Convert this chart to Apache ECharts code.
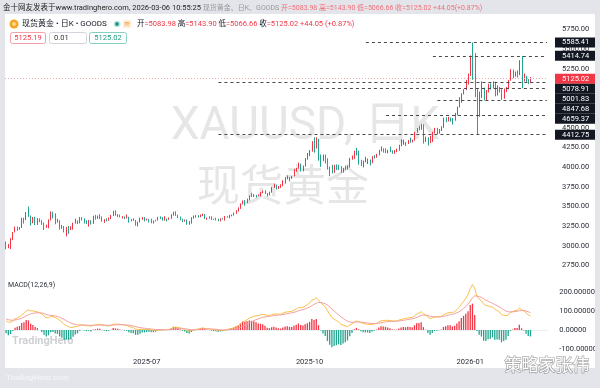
<!DOCTYPE html>
<html>
<head>
<meta charset="utf-8">
<script src="https://cdn.jsdelivr.net/npm/echarts@6/dist/echarts.min.js"></script>
<style>
  html, body { margin: 0; padding: 0; background: #e3e5ea; }
  #chart { width: 600px; height: 388px; }
</style>
</head>
<body>
<div id="chart"></div>
<script>
// daily bars [open, close, low, high]
const apr2025 = [
  [3037,2982,2956,3055],[2982,2988,2970,3023],[2988,3083,2958,3099],[3083,3175,3073,3177],
  [3175,3237,3171,3245],[3237,3210,3193,3245],[3210,3230,3205,3238],[3230,3343,3227,3357],
  [3343,3327,3283,3357],[3327,3424,3327,3430],[3424,3381,3367,3500],[3381,3288,3260,3386],
  [3288,3349,3287,3367],[3349,3319,3264,3370],[3319,3344,3267,3352],[3344,3316,3300,3348],
  [3316,3288,3268,3328]
];
const may2025 = [
  [3288,3239,3202,3297],[3239,3241,3229,3269],[3241,3334,3223,3336],[3334,3431,3323,3437],
  [3431,3364,3348,3434],[3364,3306,3274,3414],[3306,3324,3296,3342],[3324,3236,3207,3325],
  [3236,3249,3217,3265],[3249,3178,3171,3252],[3178,3240,3121,3241],[3240,3203,3154,3252],
  [3203,3230,3200,3250],[3230,3289,3205,3295],[3289,3314,3283,3345],[3314,3294,3278,3325],
  [3294,3357,3286,3366],[3357,3341,3322,3365],[3341,3300,3285,3350],[3300,3288,3276,3325],
  [3288,3317,3245,3330],[3317,3289,3271,3325]
];
const jun2025 = [
  [3289,3380,3280,3383],[3380,3352,3333,3392],[3352,3373,3343,3385],[3373,3352,3339,3403],
  [3352,3310,3306,3375],[3310,3325,3292,3340],[3325,3321,3312,3349],[3321,3353,3318,3360],
  [3353,3385,3341,3393],[3385,3433,3378,3446],[3433,3385,3383,3452],[3385,3388,3367,3404],
  [3388,3369,3362,3398],[3369,3371,3347,3378],[3371,3368,3340,3374],[3368,3369,3347,3398],
  [3369,3323,3295,3370],[3323,3333,3312,3341],[3333,3328,3317,3350],[3328,3274,3255,3329],
  [3274,3303,3247,3307]
];
const jul2025 = [
  [3303,3338,3298,3358],[3338,3357,3330,3365],[3357,3326,3311,3365],[3326,3337,3322,3345],
  [3337,3335,3296,3342],[3335,3301,3287,3345],[3301,3313,3283,3322],[3313,3325,3310,3330],
  [3325,3355,3322,3369],[3355,3343,3340,3375],[3343,3324,3320,3366],[3324,3347,3320,3377],
  [3347,3339,3310,3349],[3339,3350,3331,3361],[3350,3397,3345,3402],[3397,3431,3385,3434],
  [3431,3387,3381,3439],[3387,3368,3351,3396],[3368,3337,3325,3373],[3337,3314,3302,3345],
  [3314,3326,3308,3334],[3326,3274,3268,3334],[3274,3289,3268,3315]
];
const aug2025 = [
  [3289,3362,3282,3364],[3362,3373,3346,3385],[3373,3381,3360,3390],[3381,3368,3359,3390],
  [3368,3396,3364,3398],[3396,3398,3378,3409],[3398,3342,3341,3405],[3342,3348,3331,3358],
  [3348,3356,3345,3375],[3356,3336,3330,3375],[3336,3335,3331,3346],[3335,3332,3323,3358],
  [3332,3315,3312,3345],[3315,3347,3311,3351],[3347,3339,3334,3351],[3339,3371,3321,3379],
  [3371,3365,3358,3377],[3365,3393,3351,3394],[3393,3397,3375,3398],[3397,3416,3386,3423],
  [3416,3448,3407,3453]
];
const sep2025 = [
  [3448,3476,3436,3489],[3476,3533,3470,3540],[3533,3578,3527,3578],[3578,3545,3511,3582],
  [3545,3586,3543,3600],[3586,3636,3577,3640],[3636,3626,3620,3674],[3626,3641,3620,3658],
  [3641,3634,3614,3647],[3634,3643,3630,3654],[3643,3679,3628,3685],[3679,3690,3670,3703],
  [3690,3659,3658,3707],[3659,3644,3627,3671],[3644,3685,3640,3688],[3685,3746,3676,3750],
  [3746,3763,3737,3791],[3763,3736,3717,3778],[3736,3749,3722,3761],[3749,3760,3737,3782],
  [3760,3833,3758,3835],[3833,3858,3792,3872]
];
const oct2025 = [
  [3858,3866,3845,3895],[3866,3857,3820,3875],[3857,3886,3851,3889],[3886,3960,3884,3977],
  [3960,3985,3940,3990],[3985,4040,3980,4059],[4040,3975,3945,4045],[3975,4017,3946,4022],
  [4017,4110,4007,4116],[4110,4143,4095,4179],[4143,4208,4140,4218],[4208,4326,4196,4330],
  [4326,4250,4185,4380],[4250,4356,4236,4381],[4356,4125,4082,4360],[4125,4094,4004,4161],
  [4094,4126,4077,4161],[4126,4111,4046,4161],[4111,3982,3970,4113],[3982,3951,3886,4007],
  [3951,3930,3920,4030],[3930,4025,3928,4030],[4025,4002,3964,4035]
];
const nov2025 = [
  [4002,4000,3962,4030],[4000,3932,3928,4013],[3932,3980,3931,3992],[3980,3977,3962,4020],
  [3977,4001,3970,4020],[4001,4115,3995,4118],[4115,4128,4095,4148],[4128,4195,4105,4210],
  [4195,4170,4150,4245],[4170,4080,4031,4211],[4080,4045,4015,4094],[4045,4066,3997,4083],
  [4066,4077,4062,4132],[4077,4080,4040,4110],[4080,4065,4022,4098],[4065,4135,4050,4140],
  [4135,4130,4110,4155],[4130,4165,4120,4170],[4165,4218,4150,4220]
];
const dec2025 = [
  [4218,4232,4200,4264],[4232,4206,4185,4240],[4206,4203,4180,4240],[4203,4208,4175,4220],
  [4208,4197,4190,4260],[4197,4188,4170,4215],[4188,4208,4170,4218],[4208,4228,4190,4236],
  [4228,4280,4210,4285],[4280,4300,4265,4353],[4300,4305,4285,4350],[4305,4300,4270,4320],
  [4300,4340,4295,4345],[4340,4332,4310,4375],[4332,4340,4315,4350],[4340,4445,4338,4450],
  [4445,4490,4440,4497],[4490,4480,4470,4525],[4480,4532,4475,4550],[4532,4332,4300,4545],
  [4332,4372,4320,4388],[4372,4318,4275,4380]
];
const jan2026 = [
  [4318,4330,4305,4400],[4330,4445,4320,4450],[4445,4492,4430,4500],[4492,4455,4420,4500],
  [4455,4478,4425,4485],[4478,4510,4460,4520],[4510,4598,4500,4630],[4598,4588,4570,4635],
  [4588,4625,4580,4640],[4625,4615,4580,4630],[4615,4595,4540,4625],[4595,4670,4590,4690],
  [4670,4765,4660,4770],[4765,4835,4760,4890],[4835,4935,4820,4940],[4935,4985,4925,4990],
  [4985,5060,4980,5110],[5060,5165,5050,5190],[5165,5410,5160,5420],[5410,5390,5110,5585.41],
  [5390,4960,4890,5450]
];
const feb2026 = [
  [4960,4659.37,4412.75,4990],[4659,4940,4640,4960],[4940,4975,4880,5090],[4975,4860,4848,5010],
  [4860,4960,4840,4980],[4960,5030,4950,5060],[5030,5010,4985,5065],[5010,5065,5000,5090],
  [5065,4930,4900,5085],[4930,5000,4910,5040],[5000,4975,4950,5020],[4975,4880,4855,4990],
  [4880,4985,4870,5000],[4985,5000,4955,5020],[5000,5105,4990,5110],[5105,5225,5100,5245],
  [5225,5165,5130,5240],[5165,5200,5150,5215],[5200,5180,5140,5230],[5180,5340,5170,5360]
];
const mar2026 = [
  [5340,5130,5001.83,5414.74],[5130,5150,5090,5190],[5150,5085,5070,5160],[5085,5081,5055,5120],
  [5083.98,5125.02,5066.66,5143.9]
];

// horizontal levels drawn on the chart, and the bar each one starts from
const levels = [5585.41, 5414.74, 5078.91, 5001.83, 4847.68, 4659.37, 4412.75];
const levelStart = [161, 191, 95, 127, 193, 170, 95];
const lastPrice = 5125.02;

// bottom axis labels (bar index -> text)
const tickIndex = [63, 136, 208];
const tickText = ['2025-07', '2025-10', '2026-01'];

// EMA state just before the first visible bar
const macdSeed = { ema12: 3060, ema26: 3000, dea: 60 };

const holidays = ['2025-04-18', '2025-11-27', '2025-12-25', '2026-01-01'];
const UP = '#f23645';
const DOWN = '#22a58f';
const FONT = "Roboto, 'Noto Sans CJK SC', sans-serif";

const ohlc = [].concat(apr2025, may2025, jun2025, jul2025, aug2025, sep2025,
  oct2025, nov2025, dec2025, jan2026, feb2026, mar2026);

function tradingDays(start, count) {
  const out = [];
  const d = new Date(start + 'T00:00:00Z');
  while (out.length < count) {
    const s = d.toISOString().slice(0, 10);
    const wd = d.getUTCDay();
    if (wd !== 0 && wd !== 6 && !holidays.includes(s)) out.push(s);
    d.setUTCDate(d.getUTCDate() + 1);
  }
  return out;
}

function calcMACD(closes) {
  let e12 = macdSeed.ema12, e26 = macdSeed.ema26, dea = macdSeed.dea;
  const difArr = [], deaArr = [], histArr = [];
  closes.forEach((c) => {
    e12 += (c - e12) * 2 / 13;
    e26 += (c - e26) * 2 / 27;
    const dif = e12 - e26;
    dea += (dif - dea) * 2 / 10;
    difArr.push(+dif.toFixed(2));
    deaArr.push(+dea.toFixed(2));
    histArr.push(+((dif - dea) * 2).toFixed(2));
  });
  return { dif: difArr, dea: deaArr, hist: histArr };
}

const dates = tradingDays('2025-04-07', ohlc.length);
// empty slots on the right, like the chart's right margin
const cats = dates.concat(['p1', 'p2', 'p3', 'p4', 'p5', 'p6', 'p7']);
const lastIdx = cats.length - 1;
const macd = calcMACD(ohlc.map((b) => b[1]));

const chart = echarts.init(document.getElementById('chart'));

function baseGraphic() {
  const g = [];
  // watermarks (under the candles)
  g.push({ type: 'text', x: 305, y: 127, z: 0, silent: true,
    style: { text: 'XAUUSD, 日K', fill: '#e6e6e6', font: "46px " + FONT, textAlign: 'center', textVerticalAlign: 'middle' } });
  g.push({ type: 'text', x: 283, y: 190, z: 0, silent: true,
    style: { text: '现货黄金', fill: '#e6e6e6', font: "43px " + FONT, textAlign: 'center', textVerticalAlign: 'middle' } });
  g.push({ type: 'text', x: 12, y: 341, z: 0, silent: true,
    style: { text: 'TradingHero', fill: '#cfd0d3', font: "bold 11px " + FONT, textVerticalAlign: 'middle' } });

  // grey frame around the white panel
  const frame = [[0, 0, 600, 14], [0, 14, 5, 354], [595, 14, 5, 354], [0, 368, 600, 20]];
  frame.forEach((r) => g.push({ type: 'rect', z: 100, silent: true,
    shape: { x: r[0], y: r[1], width: r[2], height: r[3] }, style: { fill: '#e3e5ea' } }));

  g.push({ type: 'text', x: 3, y: 8, z: 101, style: {
    text: '{a|金十网友发表于www.tradinghero.com, 2026-03-06 10:55:25 }{b|现货黄金、日K、GOODS }{c|开=5083.98 高=5143.90 低=5066.66 收=5125.02 +44.05(+0.87%)}',
    textVerticalAlign: 'middle', font: "7.5px " + FONT,
    rich: {
      a: { fill: '#1e1e1e', fontSize: 7.5, fontFamily: FONT },
      b: { fill: '#999999', fontSize: 7, fontFamily: FONT },
      c: { fill: '#f07078', fontSize: 7, fontFamily: FONT }
    } } });

  // legend row
  g.push({ type: 'circle', z: 101, shape: { cx: 14, cy: 24, r: 4.5 }, style: { fill: '#f6a623' } });
  g.push({ type: 'circle', z: 102, shape: { cx: 14, cy: 24, r: 2 }, style: { fill: '#fdd98a' } });
  g.push({ type: 'text', x: 22, y: 24, z: 101, style: {
    text: '现货黄金 • 日K • GOODS', fill: '#131722', font: "8px " + FONT, textVerticalAlign: 'middle' } });
  g.push({ type: 'circle', z: 101, shape: { cx: 117, cy: 24, r: 3.5 }, style: { fill: '#cdebe4' } });
  g.push({ type: 'circle', z: 102, shape: { cx: 117, cy: 24, r: 2 }, style: { fill: '#1e9e86' } });
  g.push({ type: 'rect', z: 101, shape: { x: 123, y: 20, width: 8, height: 8, r: 1.5 }, style: { fill: '#fdebd3' } });
  g.push({ type: 'text', x: 127, y: 24, z: 102, style: {
    text: '≋', fill: '#f59a30', font: "7px " + FONT, textAlign: 'center', textVerticalAlign: 'middle' } });
  g.push({ type: 'text', x: 137, y: 24, z: 101, style: {
    text: '{k|开}{v|=5083.98} {k|高}{v|=5143.90} {k|低}{v|=5066.66} {k|收}{v|=5125.02} {v|+44.05 (+0.87%)}',
    textVerticalAlign: 'middle', font: "7.5px " + FONT,
    rich: {
      k: { fill: '#131722', fontSize: 7.5, fontFamily: FONT },
      v: { fill: '#f23645', fontSize: 7.5, fontFamily: FONT }
    } } });

  // price boxes
  const pbox = [
    { x: 10, w: 35, stroke: '#f5a0a6', text: '5125.19', fill: '#f23645', align: 'center' },
    { x: 49, w: 37, stroke: '#d2d5db', text: '0.01', fill: '#333333', align: 'left' },
    { x: 89, w: 37, stroke: '#86d0c1', text: '5125.02', fill: '#1e9e86', align: 'center' }
  ];
  pbox.forEach((b) => {
    g.push({ type: 'rect', z: 101, shape: { x: b.x + 0.5, y: 32.5, width: b.w, height: 11, r: 2 },
      style: { fill: '#ffffff', stroke: b.stroke, lineWidth: 1 } });
    g.push({ type: 'text', x: b.align === 'center' ? b.x + b.w / 2 + 0.5 : b.x + 5, y: 38.2, z: 102, style: {
      text: b.text, fill: b.fill, font: "7.5px " + FONT, textAlign: b.align, textVerticalAlign: 'middle' } });
  });

  g.push({ type: 'text', x: 8, y: 285, z: 101, style: {
    text: 'MACD(12,26,9)', fill: '#2a2e39', font: "7px " + FONT, textVerticalAlign: 'middle' } });

  g.push({ type: 'text', x: 6, y: 378, z: 101, style: {
    text: 'TradingHero.com', fill: '#f1f2f5', font: "bold 8px " + FONT, textVerticalAlign: 'middle' } });
  g.push({ type: 'text', x: 547, y: 367, z: 103, style: {
    text: '策略家张伟', fill: '#ffffff', stroke: 'rgba(70,70,70,0.45)', lineWidth: 1.4,
    font: "17px " + FONT, textAlign: 'center', textVerticalAlign: 'middle' } });
  return g;
}

const option = {
  animation: false,
  backgroundColor: '#ffffff',
  grid: [
    { left: 5, right: 52, top: 9.8, height: 275.4 },
    { left: 5, right: 52, top: 280.6, height: 76 }
  ],
  xAxis: [
    { type: 'category', gridIndex: 0, data: cats,
      axisLine: { show: false }, axisTick: { show: false }, axisLabel: { show: false }, splitLine: { show: false } },
    { type: 'category', gridIndex: 1, data: cats,
      axisLine: { show: true, lineStyle: { color: '#eceef2' } }, axisTick: { show: false }, splitLine: { show: false },
      axisLabel: {
        interval: (i) => tickIndex.includes(i),
        formatter: (v, i) => { const k = tickIndex.indexOf(i); return k < 0 ? '' : tickText[k]; },
        color: '#2a2e39', fontSize: 7.5, fontFamily: FONT, margin: 2
      } }
  ],
  yAxis: [
    { type: 'value', gridIndex: 0, position: 'right', min: 2500, max: 6000, interval: 250,
      axisLine: { show: false }, axisTick: { show: false }, splitLine: { show: false },
      axisLabel: { formatter: (v) => (v <= 2500 || v >= 6000) ? '' : v.toFixed(2),
        color: '#2a2e39', fontSize: 7.5, fontFamily: FONT, margin: 14, align: 'left' } },
    { type: 'value', gridIndex: 1, position: 'right', min: -140, max: 260, interval: 20,
      axisLine: { show: false }, axisTick: { show: false }, splitLine: { show: false },
      axisLabel: { formatter: (v) => (Math.round(v) % 100 === 0) ? v.toFixed(5) : '',
        color: '#2a2e39', fontSize: 7.5, fontFamily: FONT, margin: 12, align: 'left' } }
  ],
  graphic: { elements: baseGraphic() },
  series: [
    {
      type: 'candlestick', xAxisIndex: 0, yAxisIndex: 0, data: ohlc, barWidth: 1.2,
      itemStyle: { color: UP, color0: DOWN, borderColor: UP, borderColor0: DOWN, borderWidth: 1 },
      markLine: {
        silent: true, symbol: ['none', 'none'], label: { show: false },
        lineStyle: { color: '#4a4a4a', type: [3, 3], width: 1 },
        data: [{ yAxis: lastPrice, lineStyle: { color: '#f6a5ab', type: [1, 2], width: 1 } }]
          .concat(levels.map((v, k) => [{ coord: [levelStart[k], v] }, { coord: [lastIdx, v] }]))
      }
    },
    {
      type: 'bar', xAxisIndex: 1, yAxisIndex: 1, barWidth: 1.3,
      data: macd.hist.map((v) => ({ value: v, itemStyle: { color: v >= 0 ? UP : DOWN } }))
    },
    { type: 'line', xAxisIndex: 1, yAxisIndex: 1, data: macd.dif, symbol: 'none',
      lineStyle: { color: '#fbbf45', width: 1 } },
    { type: 'line', xAxisIndex: 1, yAxisIndex: 1, data: macd.dea, symbol: 'none',
      lineStyle: { color: '#f5a0a0', width: 1 } }
  ]
};

chart.setOption(option);

// level tags on the price scale, pushed down when they would overlap
const tags = levels.map((v) => ({ v, color: '#131722' }))
  .concat([{ v: lastPrice, color: '#f23645' }])
  .sort((a, b) => b.v - a.v);
const tagEls = [];
let prevY = -100;
tags.forEach((t) => {
  let y = chart.convertToPixel({ yAxisIndex: 0 }, t.v);
  y = Math.max(y, prevY + 10);
  prevY = y;
  tagEls.push({ type: 'rect', z: 90, shape: { x: 555, y: y - 5, width: 40, height: 10 }, style: { fill: t.color } });
  tagEls.push({ type: 'text', x: 562, y: y, z: 91, style: {
    text: t.v.toFixed(2), fill: '#ffffff', font: "7.5px " + FONT, textVerticalAlign: 'middle' } });
});
chart.setOption({ graphic: { elements: baseGraphic().concat(tagEls) } });
</script>
</body>
</html>
